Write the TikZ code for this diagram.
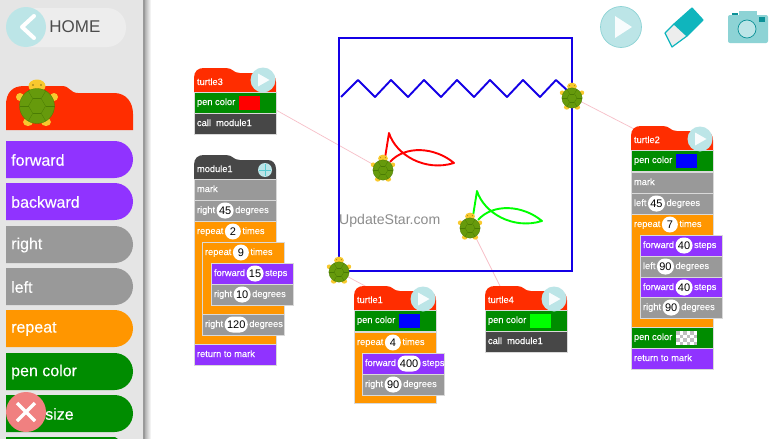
\documentclass[tikz,border=0pt]{standalone}
\usepackage{fontspec}
\setmainfont{Liberation Sans}
\usetikzlibrary{positioning,shapes.misc,shapes.geometric}

\definecolor{redblock}{HTML}{FF2D00}
\definecolor{purpleblock}{HTML}{9033FF}
\definecolor{grayblock}{HTML}{999999}
\definecolor{orangeblock}{HTML}{FF9600}
\definecolor{greenblock}{HTML}{008C00}
\definecolor{darkblock}{HTML}{474747}
\definecolor{iconlight}{HTML}{BCE5E7}
\definecolor{iconteal}{HTML}{0FB5BD}
\definecolor{iconmid}{HTML}{8DD3D5}
\definecolor{shell}{HTML}{669A0C}
\definecolor{shellline}{HTML}{4A7C04}
\definecolor{feet}{HTML}{F8C92E}
\definecolor{pathblue}{HTML}{1400E6}
\definecolor{tetherpink}{HTML}{F7BFC8}
\definecolor{delred}{HTML}{F08080}

\tikzset{
  row/.style={rectangle, anchor=north west, minimum width=82pt, minimum height=21pt,
    inner sep=0pt, outer sep=0pt, draw=white!85!black, line width=.4pt},
  lbl/.style={anchor=west, text=white, inner sep=0pt, outer sep=0pt, text height=7pt, text depth=2pt,
    font=\fontsize{9.3}{11}\selectfont\addfontfeature{FakeBold=0.2}},
  pill/.style={rounded rectangle, fill=white, text=black, minimum width=16pt, minimum height=16pt,
    inner xsep=1.5pt, inner ysep=0pt, outer sep=0pt, text height=7.5pt, text depth=0pt,
    font=\fontsize{11}{12}\selectfont},
  swatch/.style={rectangle, minimum width=21pt, minimum height=14pt, inner sep=0pt, anchor=west},
  sidebtn/.style={rounded rectangle, rounded rectangle west arc=none, anchor=north west,
    minimum width=127pt, minimum height=37pt, inner sep=0pt, outer sep=0pt},
  sidelbl/.style={anchor=west, text=white, inner sep=0pt, font=\fontsize{16}{18}\selectfont\addfontfeature{FakeBold=0.3}},
  playbtn/.style={circle, fill=iconlight, minimum size=25pt, inner sep=0pt},
  tether/.style={draw=tetherpink, line width=.7pt},
  trail/.style={line width=1.9pt, line join=round},
  pics/turtlebody/.style={code={
    \fill[feet] (-17,-9) circle (4);
    \fill[feet] (17,-9) circle (4);
    \fill[feet] (-9,16) ellipse (5 and 4);
    \fill[feet] (9,16) ellipse (5 and 4);
    \fill[feet] (0,-20) ellipse (8.5 and 6.5);
    \fill[black] (-4,-21) circle (.6);
    \fill[black] (4,-21) circle (.6);
    \filldraw[fill=shell, draw=shellline, line width=.3pt] (0,0) circle (17.5);
    \foreach \a in {0,60,...,300} {
      \draw[shellline, line width=.3pt] (\a:8.5) -- (\a+60:8.5);
      \draw[shellline, line width=.3pt] (\a:8.5) -- (\a:17.5);
    }
  }}
}

% block with a number in a white pill
\newcommand{\numrow}[8][]{
  \node[row, fill=#3, #1] (#2) at (#4,#5) {};
  \node[lbl] (#2w) at (#4+3,#5+10.5) {#6};
  \node[pill, right=1.5pt of #2w] (#2v) {#7};
  \node[lbl, right=1.5pt of #2v] (#2u) {#8};
}
% block with plain text
\newcommand{\plainrow}[5]{
  \node[row, fill=#2] (#1) at (#3,#4) {};
  \node[lbl] (#1w) at (#3+3,#4+10.5) {#5};
}
% pen color block
\newcommand{\penrow}[4]{
  \plainrow{#1}{greenblock}{#2}{#3}{pen color}
  \node[swatch, fill=#4] (#1s) at (#2+45,#3+10.5) {};
}
% rounded top block with notch
\newcommand{\blockhead}[5]{
  \fill[#4] (#2,#3+24) -- (#2,#3+10) .. controls (#2,#3+3) and (#2+4,#3) .. (#2+10,#3)
    -- (#2+32,#3) .. controls (#2+39,#3) and (#2+39,#3+5) .. (#2+46,#3+5)
    -- (#2+74,#3+5) .. controls (#2+79,#3+5) and (#2+82,#3+9) .. (#2+82,#3+14)
    -- (#2+82,#3+24) -- cycle;
  \node[lbl] (#1) at (#2+3,#3+14.5) {#5};
}
\newcommand{\playicon}[3]{
  \node[playbtn] (#1) at (#2,#3) {};
  \fill[white!90!iconlight] (#2-5,#3-6.5) -- (#2+6.5,#3) -- (#2-5,#3+6.5) -- cycle;
}
\newcommand{\sideitem}[4]{
  \node[sidebtn, fill=#2] (#1) at (6,#3) {};
  \node[sidelbl] (#1w) at (11,#3+19) {#4};
}
\newcommand{\turtleat}[3]{
  \coordinate (#1) at (#2,#3);
  \pic[scale=.58] at (#1) {turtlebody};
}

\begin{document}
\begin{tikzpicture}[x=1pt,y=-1pt]
    \useasboundingbox (0,0) rectangle (780,439);
    \fill[white] (0,0) rectangle (780,439);

    % side panel
    \shade[left color=black!30, right color=white] (145,0) rectangle (151,439);
    \fill[black!10] (0,0) rectangle (143,439);
    \fill[black!40] (143,0) rectangle (145,439);

    % home button
    \fill[black!7, rounded corners=19pt] (8,8) rectangle (126,47);
    \node[circle, fill=iconlight, minimum size=40pt, inner sep=0pt] (homebtn) at (26,27) {};
    \draw[white, line width=4pt, line cap=round, line join=round] (34,16) -- (22,27) -- (34,38);
    \node[anchor=west, text=black!70, inner sep=0pt, font=\fontsize{17}{20}\selectfont, right=3pt of homebtn] (home) {HOME};

    % side panel blocks
    \fill[redblock] (6,130) -- (6,105) .. controls (6,93) and (12,86) .. (24,86)
      -- (62,86) .. controls (70,86) and (70,93) .. (78,93)
      -- (114,93) .. controls (126,93) and (133,102) .. (133,114) -- (133,130) -- cycle;
    \sideitem{sideforward}{purpleblock}{141}{forward}
    \sideitem{sidebackward}{purpleblock}{183}{backward}
    \sideitem{sideright}{grayblock}{226}{right}
    \sideitem{sideleft}{grayblock}{268}{left}
    \sideitem{siderepeat}{orangeblock}{310}{repeat}
    \sideitem{sidepen}{greenblock}{353}{pen color}
    \sideitem{sidesize}{greenblock}{395}{}
    \node[sidelbl] (sidesizew) at (45,414) {size};
    \fill[greenblock] (20,437) -- (115,437) -- (118,439) -- (6,439) -- (6,437) -- cycle;
    \pic at (37,106) {turtlebody};

    % delete button
    \node[circle, fill=delred, minimum size=40pt, inner sep=0pt] (delbtn) at (26,412) {};
    \draw[white, line width=3.5pt] (17,403) -- (35,421) (35,403) -- (17,421);

    % toolbar
    \node[circle, fill=iconlight, draw=iconmid, line width=.7pt, minimum size=41pt, inner sep=0pt] (playall) at (621,27) {};
    \fill[white!90!iconlight] (615,16) -- (632,27) -- (615,38) -- cycle;
    \filldraw[fill=iconteal, draw=iconteal, line width=1.2pt, line join=round] (692,8) -- (703,20) -- (687,36) -- (674,24) -- cycle;
    \filldraw[fill=black!7, draw=iconteal, line width=1.2pt, line join=round] (674,24) -- (687,36) -- (672,47) -- (665,33) -- cycle;
    \fill[iconmid, rounded corners=2pt] (728,15) rectangle (768,43);
    \fill[iconmid] (739,11) rectangle (757,16);
    \fill[iconteal!80!black] (732,13) rectangle (738,15);
    \fill[iconteal!80!black] (759,17) rectangle (765,22);
    \node[circle, fill=iconlight, draw=iconteal!80!black, line width=.7pt, minimum size=18pt, inner sep=0pt] (lens) at (747,29) {};

    % turtle positions
    \coordinate (tu3) at (383,170);
    \coordinate (tu1) at (339,272);
    \coordinate (tu4) at (471,228);
    \coordinate (tu2) at (572,97);
    \coordinate (blk3) at (235,87);
    \coordinate (blk1) at (395,302);
    \coordinate (blk4) at (510,306);
    \coordinate (blk2) at (671,148);
    \draw[tether] (tu3) -- (blk3);
    \draw[tether] (tu1) -- (blk1);
    \draw[tether] (tu4) -- (blk4);
    \draw[tether] (tu2) -- (blk2);

    % square and zigzag
    \draw[pathblue, line width=2.2pt] (339,38) rectangle (572,271);
    \draw[pathblue, trail] (341,97)
      \foreach \k in {0,...,5} { -- (358+33*\k,80) -- (375+33*\k,97) }
      -- (556,80) -- (568,91);

    % two small fish shapes
    \foreach \col/\dx/\dy in {red/0/0,green/88/58} {
      \begin{scope}[xshift=\dx pt,yshift=-\dy pt]
        \draw[\col, trail] (385,158) -- (389,133) .. controls (396,155) and (425,172) .. (454,163)
          .. controls (435,147) and (405,145) .. (390,162);
      \end{scope}
    }
    \node[anchor=west, text=black!45, inner sep=0pt, font=\fontsize{14.1}{16}\selectfont] (watermark) at (339,221) {UpdateStar.com};

    % turtle3
    \blockhead{h3}{194}{68}{redblock}{turtle3}
    \penrow{p3}{194}{92}{red}
    \plainrow{c3}{darkblock}{194}{113}{call\ \ module1}
    \playicon{run3}{263}{80}

    % module1
    \blockhead{hm}{194}{155}{darkblock}{module1}
    \node[circle, fill=iconlight, minimum size=14pt, inner sep=0pt] (addm) at (265,170) {};
    \draw[iconteal!70!white, line width=1pt] (259,170) -- (271,170) (265,164) -- (265,176);
    \plainrow{m0}{grayblock}{194}{179}{mark}
    \numrow{m1}{grayblock}{194}{200}{right}{45}{degrees}
    \numrow[minimum height=123pt]{m2}{orangeblock}{194}{221}{repeat}{2}{times}
    \numrow[minimum height=72pt]{m3}{orangeblock}{202}{242}{repeat}{9}{times}
    \numrow{m4}{purpleblock}{211}{263}{forward}{15}{steps}
    \numrow{m5}{grayblock}{211}{284}{right}{10}{degrees}
    \numrow{m6}{grayblock}{202}{314}{right}{120}{degrees}
    \plainrow{m7}{purpleblock}{194}{344}{return to mark}

    % turtle1
    \blockhead{h1}{354}{286}{redblock}{turtle1}
    \penrow{p1}{354}{310}{blue}
    \numrow[minimum height=71pt]{a1}{orangeblock}{354}{332}{repeat}{4}{times}
    \numrow{a2}{purpleblock}{362}{353}{forward}{400}{steps}
    \numrow{a3}{grayblock}{362}{374}{right}{90}{degrees}
    \playicon{run1}{423}{299}

    % turtle4
    \blockhead{h4}{485}{286}{redblock}{turtle4}
    \penrow{p4}{485}{310}{green}
    \plainrow{c4}{darkblock}{485}{331}{call\ \ module1}
    \playicon{run4}{554}{299}

    % turtle2
    \blockhead{h2}{631}{126}{redblock}{turtle2}
    \penrow{p2}{631}{150}{blue}
    \plainrow{b0}{grayblock}{631}{172}{mark}
    \numrow{b1}{grayblock}{631}{193}{left}{45}{degrees}
    \numrow[minimum height=113pt]{b2}{orangeblock}{631}{214}{repeat}{7}{times}
    \numrow{b3}{purpleblock}{640}{235}{forward}{40}{steps}
    \numrow{b4}{grayblock}{640}{256}{left}{90}{degrees}
    \numrow{b5}{purpleblock}{640}{277}{forward}{40}{steps}
    \numrow{b6}{grayblock}{640}{297}{right}{90}{degrees}
    \penrow{b7}{631}{327}{white}
    \foreach \i in {0,...,5} {
      \foreach \j in {0,...,3} {
        \pgfmathparse{int(mod(\i+\j,2))}
        \ifnum\pgfmathresult=0
          \fill[black!25] (676+3.5*\i,331+3.5*\j) rectangle +(3.5,3.5);
        \fi
      }
    }
    \plainrow{b8}{purpleblock}{631}{348}{return to mark}
    \playicon{run2}{700}{139}

    % turtles on top
    \turtleat{t3}{383}{170}
    \turtleat{t1}{339}{272}
    \turtleat{t4}{470}{228}
    \turtleat{t2}{572}{98}
\end{tikzpicture}
\end{document}
